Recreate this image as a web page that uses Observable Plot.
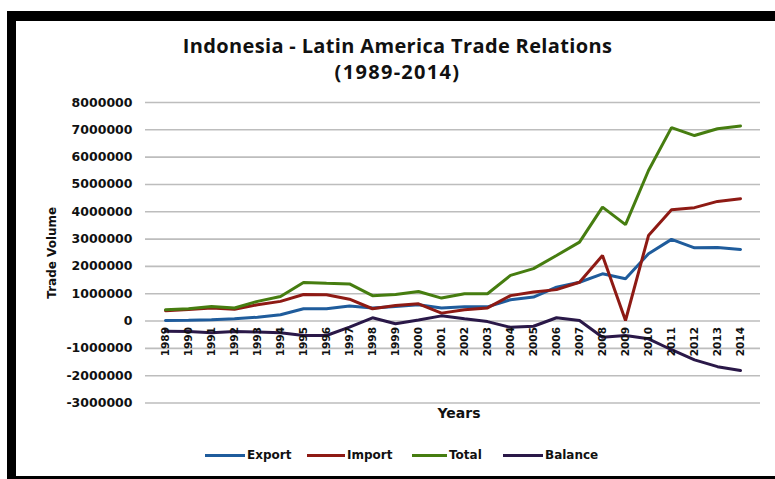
<!DOCTYPE html>
<html><head><meta charset="utf-8">
<script src="https://cdn.jsdelivr.net/npm/d3@7"></script>
<script src="https://cdn.jsdelivr.net/npm/@observablehq/plot@0.6"></script>
<style>
body{margin:0;background:#fff;width:775px;height:479px;overflow:hidden;position:relative;font-family:"Open Sans",sans-serif;}
#frame{position:absolute;left:7px;top:11px;width:768px;height:468px;border-left:9px solid #000;border-top:10px solid #000;border-bottom:3px solid #000;box-sizing:border-box;}
#chart{position:absolute;left:0;top:0;}
.title{position:absolute;left:0;width:795px;text-align:center;font-weight:700;font-size:20px;color:#111;line-height:26px;}
#legend{position:absolute;top:445px;left:0;width:775px;height:20px;font-family:"DejaVu Sans",sans-serif;font-weight:700;font-size:12px;color:#111;}
.li{position:absolute;top:0;display:flex;align-items:center;height:20px;}
.sw{display:inline-block;height:3px;margin-right:2px;}
</style></head>
<body>
<div id="frame"></div>
<div id="chart"></div>
<div class="title" style="top:33px;letter-spacing:0.35px">Indonesia - Latin America Trade Relations</div>
<div class="title" style="top:59px;letter-spacing:1.3px">(1989-2014)</div>
<div id="legend"></div>
<script>
const years = ["1989","1990","1991","1992","1993","1994","1995","1996","1997","1998","1999","2000","2001","2002","2003","2004","2005","2006","2007","2008","2009","2010","2011","2012","2013","2014"];
const exportVals = [20000,30000,50000,80000,140000,230000,450000,450000,550000,480000,530000,600000,480000,520000,520000,780000,880000,1240000,1420000,1730000,1550000,2460000,2990000,2680000,2690000,2620000];
const importVals = [380000,420000,480000,430000,600000,720000,970000,960000,800000,450000,570000,630000,290000,410000,480000,930000,1060000,1150000,1420000,2400000,20000,3130000,4070000,4150000,4380000,4480000];
const totalVals = [410000,450000,530000,480000,720000,900000,1410000,1380000,1360000,930000,970000,1080000,840000,1000000,1000000,1670000,1920000,2400000,2890000,4170000,3530000,5510000,7080000,6790000,7040000,7140000];
const balanceVals = [-370000,-380000,-430000,-380000,-400000,-430000,-530000,-530000,-220000,120000,-100000,40000,190000,80000,-20000,-230000,-190000,120000,20000,-590000,-530000,-650000,-1050000,-1420000,-1670000,-1810000];
const yTicks = [-3000000,-2000000,-1000000,0,1000000,2000000,3000000,4000000,5000000,6000000,7000000,8000000];
const seriesNames = ["Export","Import","Total","Balance"];
const seriesColors = ["#1f5c9c","#8e1a14","#467d10","#2a1848"];

const seriesVals = [exportVals, importVals, totalVals, balanceVals];
const rows = [];
seriesNames.forEach((s, si) => years.forEach((yr, i) => rows.push({series: s, year: yr, value: seriesVals[si][i]})));

const chart = Plot.plot({
  width: 775, height: 479,
  marginLeft: 145, marginRight: 15, marginTop: 102, marginBottom: 76.5,
  style: {fontFamily: "DejaVu Sans, sans-serif", background: "transparent"},
  x: {type: "point", domain: years, padding: 0.5, axis: null},
  y: {domain: [-3000000, 8000000], ticks: yTicks, axis: null},
  color: {domain: seriesNames, range: seriesColors},
  marks: [
    Plot.gridY(yTicks, {stroke: "#bdbdbd", strokeOpacity: 1, strokeWidth: 1.6}),
    Plot.axisY(yTicks, {tickSize: 0, tickPadding: 13, tickFormat: d => String(d), fontWeight: "bold", fontSize: 12.5, label: null, fill: "#111"}),
    Plot.line(rows, {x: "year", y: "value", z: "series", stroke: "series", strokeWidth: 3, strokeLinejoin: "miter"}),
    Plot.text(years, {x: d => d, y: 0, text: d => d, rotate: -90, textAnchor: "end", dy: 6, fontWeight: "bold", fontSize: 10.5, fill: "#111"}),
    Plot.text(["Trade Volume"], {frameAnchor: "left", textAnchor: "middle", dx: -93, rotate: -90, fontWeight: "bold", fontSize: 12, fill: "#111"}),
    Plot.text(["Years"], {frameAnchor: "bottom", dx: 6, dy: 15, fontWeight: "bold", fontSize: 14, fill: "#111"})
  ]
});
document.getElementById("chart").appendChild(chart);

const legend = document.getElementById("legend");
const lx = [205, 307, 412, 503];
const lw = [40, 38, 35, 40];
seriesNames.forEach((s, i) => {
  const el = document.createElement("div");
  el.className = "li";
  el.style.left = lx[i] + "px";
  el.innerHTML = `<span class="sw" style="width:${lw[i]}px;background:${seriesColors[i]}"></span><span>${s}</span>`;
  legend.appendChild(el);
});
</script>
</body></html>
